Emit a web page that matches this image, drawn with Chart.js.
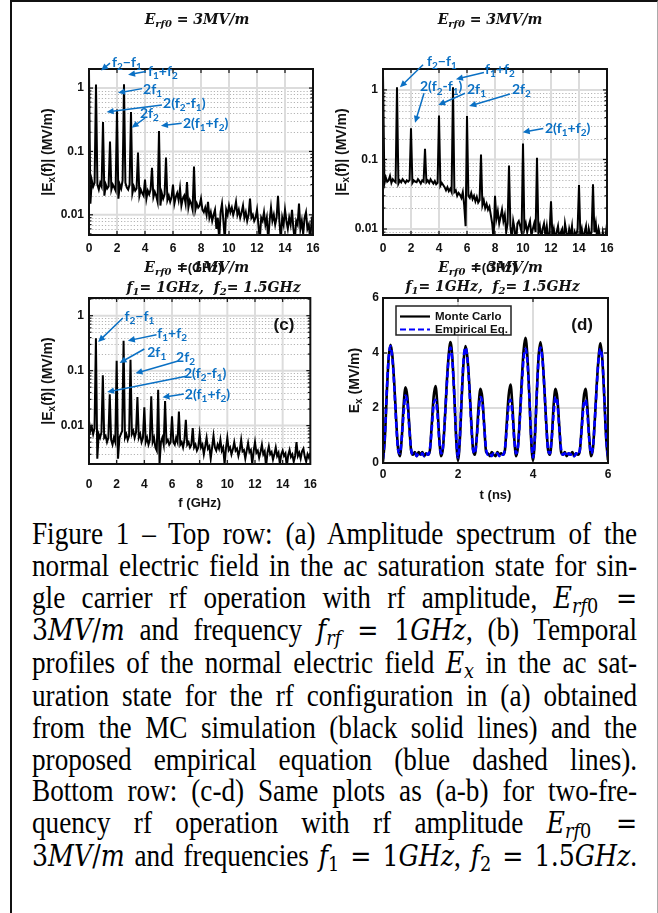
<!DOCTYPE html>
<html>
<head>
<meta charset="utf-8">
<script src="https://cdn.jsdelivr.net/npm/chart.js@4.4.1/dist/chart.umd.min.js"></script>
<style>
html, body { margin: 0; padding: 0; background: #fff; }
body { width: 658px; height: 913px; position: relative; overflow: hidden; }
#frame { position: absolute; left: 10px; top: 0; width: 648px; height: 913px; box-sizing: border-box;
  border-left: 2px solid #111; border-top: 2px solid #111; border-right: 1px solid #aaa; }
canvas { position: absolute; }
#cap { position: absolute; left: 32px; top: 518px; width: 690px; font-family: "Liberation Serif", "Times New Roman", serif;
  font-size: 31px; line-height: 31.8px; color: #000; transform: scaleX(0.877); transform-origin: 0 0; }
#cap div { text-align: justify; text-align-last: justify; }
#cap sub { font-size: 0.7em; vertical-align: -0.25em; line-height: 0; }
#cap .m { font-family: "DejaVu Serif", serif; font-size: 0.93em; }
</style>
</head>
<body>
<div id="frame"></div>
<canvas id="chartA" width="310" height="280" style="left:20px;top:0"></canvas>
<canvas id="chartB" width="310" height="280" style="left:320px;top:0"></canvas>
<canvas id="chartC" width="310" height="258" style="left:20px;top:255px"></canvas>
<canvas id="chartD" width="310" height="258" style="left:320px;top:255px"></canvas>
<div id="cap">
<div>Figure 1 – Top row: (a) Amplitude spectrum of the</div>
<div>normal electric field in the ac saturation state for sin-</div>
<div>gle carrier rf operation with rf amplitude, <span class="m"><i>E</i><sub><i>rf</i>0</sub> =</span></div>
<div><span class="m">3<i>MV</i>/<i>m</i></span> and frequency <span class="m"><i>f</i><sub><i>rf</i></sub> = 1<i>GHz</i></span>, (b) Temporal</div>
<div>profiles of the normal electric field <span class="m"><i>E</i><sub><i>x</i></sub></span> in the ac sat-</div>
<div>uration state for the rf configuration in (a) obtained</div>
<div>from the MC simulation (black solid lines) and the</div>
<div>proposed empirical equation (blue dashed lines).</div>
<div>Bottom row: (c-d) Same plots as (a-b) for two-fre-</div>
<div>quency rf operation with rf amplitude <span class="m"><i>E</i><sub><i>rf</i>0</sub> =</span></div>
<div><span class="m">3<i>MV</i>/<i>m</i></span> and frequencies <span class="m"><i>f</i><sub>1</sub> = 1<i>GHz</i></span>, <span class="m"><i>f</i><sub>2</sub> = 1.5<i>GHz</i></span>.</div>
</div>

<script>
// spectra sampled every 0.1 GHz, one row per GHz
const freqStep = 0.1;
const specA = [
  1.8, 0.015, 0.035, 0.028, 0.032, 1.14, 0.03, 0.025, 0.032, 0.028,
  0.29, 0.02, 0.03, 0.026, 0.028, 0.143, 0.025, 0.03, 0.027, 0.024,
  0.46, 0.018, 0.03, 0.026, 0.035, 1.15, 0.032, 0.027, 0.025, 0.03,
  0.42, 0.022, 0.028, 0.024, 0.026, 0.096, 0.02, 0.025, 0.022, 0.02,
  0.036, 0.018, 0.024, 0.021, 0.025, 0.055, 0.019, 0.023, 0.02, 0.016,
  0.21, 0.014, 0.022, 0.018, 0.021, 0.08, 0.017, 0.02, 0.016, 0.019,
  0.03, 0.015, 0.019, 0.022, 0.017, 0.026, 0.014, 0.018, 0.02, 0.015,
  0.033, 0.013, 0.017, 0.015, 0.012, 0.058, 0.012, 0.015, 0.013, 0.014,
  0.018, 0.012, 0.011, 0.013, 0.01, 0.016, 0.009, 0.011, 0.008, 0.01,
  0.012, 0.006, 0.009, 0.004, 0.011, 0.015, 0.008, 0.004, 0.012, 0.01,
  0.014, 0.011, 0.013, 0.01, 0.012, 0.016, 0.01, 0.012, 0.009, 0.011,
  0.014, 0.009, 0.011, 0.008, 0.01, 0.018, 0.009, 0.01, 0.008, 0.009,
  0.012, 0.007, 0.004, 0.009, 0.008, 0.011, 0.007, 0.009, 0.004, 0.008,
  0.013, 0.008, 0.01, 0.007, 0.009, 0.02, 0.008, 0.004, 0.009, 0.007,
  0.012, 0.008, 0.006, 0.009, 0.007, 0.012, 0.006, 0.004, 0.008, 0.007,
  0.015, 0.006, 0.008, 0.005, 0.009, 0.011, 0.006, 0.007, 0.004, 0.008,
  0.01
];
const specB = [
  1.65, 0.045, 0.055, 0.048, 0.05, 0.058, 0.046, 0.052, 0.049, 0.047,
  1.09, 0.045, 0.05, 0.047, 0.052, 0.049, 0.046, 0.05, 0.048, 0.051,
  0.28, 0.046, 0.05, 0.048, 0.047, 0.052, 0.049, 0.045, 0.05, 0.048,
  0.143, 0.047, 0.05, 0.046, 0.052, 0.048, 0.045, 0.049, 0.044, 0.046,
  0.43, 0.042, 0.046, 0.043, 0.04, 0.036, 0.04, 0.035, 0.038, 0.034,
  1.09, 0.034, 0.036, 0.03, 0.033, 0.031, 0.028, 0.034, 0.022, 0.011,
  0.42, 0.03, 0.028, 0.033, 0.027, 0.03, 0.025, 0.029, 0.024, 0.026,
  0.118, 0.022, 0.026, 0.02, 0.023, 0.019, 0.021, 0.016, 0.012, 0.007,
  0.03, 0.014, 0.018, 0.012, 0.015, 0.019, 0.013, 0.016, 0.009, 0.012,
  0.082, 0.011, 0.007, 0.013, 0.01, 0.006, 0.012, 0.013, 0.011, 0.009,
  0.169, 0.01, 0.012, 0.009, 0.011, 0.013, 0.008, 0.01, 0.012, 0.009,
  0.106, 0.009, 0.011, 0.007, 0.01, 0.012, 0.008, 0.011, 0.007, 0.009,
  0.025, 0.008, 0.01, 0.007, 0.009, 0.011, 0.007, 0.009, 0.01, 0.006,
  0.012, 0.009, 0.007, 0.01, 0.008, 0.011, 0.006, 0.009, 0.008, 0.01,
  0.043, 0.008, 0.01, 0.007, 0.009, 0.011, 0.006, 0.01, 0.008, 0.009,
  0.044, 0.009, 0.012, 0.007, 0.01, 0.008, 0.006, 0.009, 0.007, 0.008,
  0.012
];
const specC = [
  0.012, 0.008, 0.0095, 0.007, 0.009, 0.39, 0.0025, 0.007, 0.006, 0.0075,
  0.082, 0.006, 0.0065, 0.005, 0.006, 0.037, 0.0055, 0.0045, 0.006, 0.005,
  0.152, 0.0025, 0.006, 0.007, 0.008, 0.35, 0.006, 0.007, 0.0055, 0.0065,
  0.158, 0.007, 0.008, 0.006, 0.0075, 0.033, 0.006, 0.007, 0.005, 0.006,
  0.0215, 0.005, 0.006, 0.0045, 0.0055, 0.034, 0.005, 0.006, 0.004, 0.0035,
  0.045, 0.002, 0.005, 0.006, 0.0045, 0.028, 0.005, 0.0055, 0.0045, 0.005,
  0.0148, 0.005, 0.0045, 0.006, 0.005, 0.018, 0.0045, 0.005, 0.004, 0.0055,
  0.0128, 0.0045, 0.005, 0.004, 0.0045, 0.009, 0.004, 0.0045, 0.0035, 0.004,
  0.007, 0.004, 0.0045, 0.003, 0.0042, 0.006, 0.0038, 0.0042, 0.0025, 0.004,
  0.0065, 0.004, 0.0035, 0.0045, 0.0038, 0.0055, 0.0035, 0.004, 0.002, 0.0038,
  0.006, 0.0036, 0.004, 0.003, 0.0037, 0.005, 0.0035, 0.0038, 0.0028, 0.0036,
  0.0055, 0.0034, 0.0036, 0.0025, 0.0035, 0.0048, 0.0033, 0.0036, 0.002, 0.0034,
  0.005, 0.0032, 0.0035, 0.0026, 0.0033, 0.0045, 0.003, 0.0034, 0.0018, 0.0032,
  0.0042, 0.003, 0.0033, 0.0024, 0.003, 0.004, 0.0028, 0.0032, 0.002, 0.003,
  0.0035, 0.0028, 0.0031, 0.0018, 0.0029, 0.0036, 0.0027, 0.003, 0.0022, 0.0028,
  0.005, 0.0028, 0.0032, 0.0025, 0.0034, 0.0038, 0.0027, 0.0022, 0.003, 0.0026,
  0.0032
];

// field vs time, every 0.05 ns, one row per 0.5 ns
const timeStep = 0.05;
const mcField = [
  0.05, 0.9, 2.5, 3.8, 4.3, 3.9, 2.9, 1.6, 0.55, 0.25,
  0.9, 2.1, 2.75, 2.4, 1.4, 0.45, 0.3, 0.4, 0.25, 0.4,
  0.3, 0.4, 0.25, 0.35, 0.3, 0.45, 1.4, 2.4, 2.8, 2.1,
  0.9, 0.25, 0.55, 1.6, 2.9, 3.9, 4.4, 3.8, 2.5, 0.9,
  0.1, 0.85, 2.4, 3.7, 4.25, 3.85, 2.9, 1.6, 0.5, 0.3,
  0.95, 2.1, 2.7, 2.35, 1.35, 0.4, 0.35, 0.25, 0.4, 0.3,
  0.25, 0.4, 0.3, 0.35, 0.3, 0.45, 1.45, 2.45, 2.85, 2.1,
  0.9, 0.25, 0.6, 1.7, 3.0, 4.1, 4.55, 3.9, 2.5, 0.85,
  0.1, 0.9, 2.5, 3.9, 4.4, 3.9, 2.8, 1.5, 0.5, 0.3,
  0.9, 2.1, 2.7, 2.35, 1.35, 0.4, 0.3, 0.4, 0.25, 0.35,
  0.3, 0.4, 0.25, 0.35, 0.3, 0.45, 1.35, 2.35, 2.7, 2.05,
  0.9, 0.25, 0.55, 1.6, 2.85, 3.85, 4.35, 3.75, 2.4, 0.9,
  0.1
];
const empField = [
  0.15, 1.0, 2.6, 3.8, 4.25, 3.8, 2.8, 1.5, 0.5, 0.35,
  0.9, 1.8, 2.45, 2.2, 1.3, 0.5, 0.3, 0.35, 0.25, 0.35,
  0.3, 0.35, 0.25, 0.35, 0.3, 0.5, 1.25, 2.1, 2.3, 1.8,
  0.85, 0.35, 0.6, 1.6, 2.8, 3.8, 4.2, 3.7, 2.5, 1.0,
  0.2, 0.95, 2.5, 3.8, 4.2, 3.8, 2.8, 1.5, 0.5, 0.35,
  0.9, 1.8, 2.4, 2.2, 1.3, 0.5, 0.3, 0.35, 0.25, 0.35,
  0.3, 0.35, 0.25, 0.35, 0.3, 0.5, 1.25, 2.1, 2.3, 1.8,
  0.85, 0.35, 0.6, 1.6, 2.8, 3.8, 4.15, 3.7, 2.5, 1.0,
  0.2, 0.95, 2.5, 3.8, 4.2, 3.8, 2.8, 1.5, 0.5, 0.35,
  0.9, 1.8, 2.4, 2.2, 1.3, 0.5, 0.3, 0.35, 0.25, 0.35,
  0.3, 0.35, 0.25, 0.35, 0.3, 0.5, 1.25, 2.1, 2.3, 1.8,
  0.85, 0.35, 0.6, 1.6, 2.8, 3.8, 4.15, 3.7, 2.5, 1.0,
  0.2
];
const legendLabels = ['Monte Carlo', 'Empirical Eq.'];

const fTicks = [0, 2, 4, 6, 8, 10, 12, 14, 16];
const decadeTicks = [0.01, 0.1, 1];
const tTicks = [0, 2, 4, 6];
const eTicks = [0, 2, 4, 6];

// peak labels: text at (tx,ty), arrow from (x1,y1) to head (x2,y2), in data units
const notesA = [
  { text: 'f_2−f_1', tx: 1.64, ty: 2.57, x1: 1.50, y1: 2.48, x2: 0.86, y2: 1.89 },
  { text: 'f_1+f_2', tx: 4.21, ty: 1.85, x1: 4.07, y1: 1.82, x2: 2.79, y2: 1.62 },
  { text: '2f_1', tx: 3.86, ty: 0.96, x1: 3.79, y1: 0.98, x2: 2.07, y2: 0.84 },
  { text: '2(f_2-f_1)', tx: 5.29, ty: 0.58, x1: 5.21, y1: 0.54, x2: 1.26, y2: 0.42 },
  { text: '2f_2', tx: 3.64, ty: 0.40, x1: 4.0, y1: 0.337, x2: 3.05, y2: 0.237 },
  { text: '2(f_1+f_2)', tx: 6.71, ty: 0.281, x1: 6.62, y1: 0.278, x2: 5.14, y2: 0.255 }
];
const notesB = [
  { text: 'f_2−f_1', tx: 3.14, ty: 2.55, x1: 2.86, y1: 2.30, x2: 1.21, y2: 1.09 },
  { text: 'f_1+f_2', tx: 7.29, ty: 1.95, x1: 7.21, y1: 1.78, x2: 5.21, y2: 1.43 },
  { text: '2(f_2-f_1)', tx: 2.64, ty: 1.105, x1: 2.93, y1: 0.896, x2: 2.29, y2: 0.336 },
  { text: '2f_1', tx: 6.0, ty: 1.03, x1: 5.86, y1: 0.896, x2: 3.95, y2: 0.606 },
  { text: '2f_2', tx: 9.21, ty: 1.03, x1: 9.07, y1: 0.875, x2: 6.16, y2: 0.586 },
  { text: '2(f_1+f_2)', tx: 11.57, ty: 0.281, x1: 11.45, y1: 0.279, x2: 9.98, y2: 0.246 }
];
const notesC = [
  { text: 'f_2−f_1', tx: 2.57, ty: 0.959, x1: 2.45, y1: 0.908, x2: 0.66, y2: 0.333 },
  { text: 'f_1+f_2', tx: 4.93, ty: 0.471, x1: 4.88, y1: 0.451, x2: 2.81, y2: 0.351 },
  { text: '2f_1', tx: 4.21, ty: 0.212, x1: 4.0, y1: 0.248, x2: 2.21, y2: 0.138 },
  { text: '2f_2', tx: 6.29, ty: 0.172, x1: 6.38, y1: 0.148, x2: 3.36, y2: 0.0893 },
  { text: '2(f_2-f_1)', tx: 6.86, ty: 0.0882, x1: 7.02, y1: 0.0788, x2: 1.31, y2: 0.041 },
  { text: '2(f_1+f_2)', tx: 6.93, ty: 0.0366, x1: 6.86, y1: 0.0376, x2: 5.31, y2: 0.0327 }
];

const sansBold = '"Liberation Sans", Arial, sans-serif';
const mathFont = '"DejaVu Serif", serif';
const noteBlue = '#0a70c4';
const tickFont = { family: sansBold, size: 12, weight: 'bold' };

const toXY = (vals, step) => vals.map((v, i) => ({ x: +(i * step).toFixed(2), y: v }));

// text with "_x" or "_{xy}" subscripts
function parseRich(str) {
  const segs = [];
  let i = 0;
  while (i < str.length) {
    if (str[i] === '_') {
      if (str[i + 1] === '{') {
        const j = str.indexOf('}', i);
        segs.push({ t: str.slice(i + 2, j), sub: true });
        i = j + 1;
      } else {
        segs.push({ t: str[i + 1], sub: true });
        i += 2;
      }
    } else {
      let j = i;
      while (j < str.length && str[j] !== '_') j++;
      segs.push({ t: str.slice(i, j), sub: false });
      i = j;
    }
  }
  return segs;
}

function drawRich(ctx, str, x, y, font, align) {
  const segs = parseRich(str);
  const fontOf = s => `${font.style} ${s.sub ? Math.round(font.size * 0.68) : font.size}px ${font.family}`;
  let w = 0;
  segs.forEach(s => { ctx.font = fontOf(s); s.w = ctx.measureText(s.t).width; w += s.w; });
  let cx = align === 'center' ? x - w / 2 : x;
  ctx.textAlign = 'left';
  ctx.textBaseline = 'middle';
  segs.forEach(s => {
    ctx.font = fontOf(s);
    ctx.fillText(s.t, cx, s.sub ? y + font.size * 0.32 : y);
    cx += s.w;
  });
}

function seg(ctx, x1, y1, x2, y2) {
  ctx.beginPath(); ctx.moveTo(x1, y1); ctx.lineTo(x2, y2); ctx.stroke();
}

function matlabPlugin(look) {
  return {
    id: 'matlab',
    beforeDatasetsDraw(chart) {
      const { ctx, chartArea: a, scales: { x, y } } = chart;
      ctx.save();
      ctx.beginPath(); ctx.rect(a.left, a.top, a.width, a.height); ctx.clip();
      if (look.log) {
        ctx.strokeStyle = '#b4b4b4'; ctx.lineWidth = 1; ctx.setLineDash([1.2, 2]);
        [0.001, 0.01, 0.1, 1].forEach(d => {
          for (let k = 2; k <= 9; k++) {
            const py = Math.round(y.getPixelForValue(k * d)) + 0.5;
            if (py > a.top && py < a.bottom) seg(ctx, a.left, py, a.right, py);
          }
        });
        ctx.setLineDash([]);
      }
      ctx.strokeStyle = '#dcdcdc'; ctx.lineWidth = 2;
      look.xGrid.forEach(v => { const px = x.getPixelForValue(v); seg(ctx, px, a.top, px, a.bottom); });
      look.yGrid.forEach(v => { const py = y.getPixelForValue(v); seg(ctx, a.left, py, a.right, py); });
      ctx.restore();
    },
    afterDraw(chart) {
      const { ctx, chartArea: a, scales: { x, y } } = chart;
      const mid = (a.left + a.right) / 2;
      ctx.save();
      // box and inward ticks
      ctx.strokeStyle = '#111'; ctx.lineWidth = 2;
      ctx.strokeRect(a.left, a.top, a.width, a.height);
      ctx.lineWidth = 1.2;
      look.xGrid.forEach(v => {
        const px = x.getPixelForValue(v);
        seg(ctx, px, a.bottom, px, a.bottom - 4); seg(ctx, px, a.top, px, a.top + 4);
      });
      look.yGrid.forEach(v => {
        const py = y.getPixelForValue(v);
        seg(ctx, a.left, py, a.left + 4, py); seg(ctx, a.right, py, a.right - 4, py);
      });
      if (look.log) {
        [0.001, 0.01, 0.1, 1].forEach(d => {
          for (let k = 2; k <= 9; k++) {
            const py = y.getPixelForValue(k * d);
            if (py > a.top && py < a.bottom) { seg(ctx, a.left, py, a.left + 2.5, py); seg(ctx, a.right, py, a.right - 2.5, py); }
          }
        });
      }
      // titles
      ctx.fillStyle = '#111';
      look.titles.forEach(t => drawRich(ctx, t.text, mid + t.dx, a.top + t.dy,
        { style: 'bold italic', size: 14, family: mathFont }, 'center'));
      drawRich(ctx, look.xTitle, mid, a.bottom + look.xTitleDy, { style: 'bold', size: 13, family: sansBold }, 'center');
      ctx.save();
      ctx.translate(a.left - look.yTitleDx, (a.top + a.bottom) / 2);
      ctx.rotate(-Math.PI / 2);
      drawRich(ctx, look.yTitle, 0, 0, { style: 'bold', size: 14, family: sansBold }, 'center');
      ctx.restore();
      // panel tag
      if (look.tag) {
        ctx.font = 'bold 17px ' + sansBold; ctx.textAlign = 'right'; ctx.textBaseline = 'middle';
        ctx.fillText(look.tag, a.right - look.tagDx, a.top + 27);
      }
      // peak labels
      if (look.notes) {
        ctx.strokeStyle = noteBlue; ctx.fillStyle = noteBlue; ctx.lineWidth = 1.5;
        look.notes.forEach(n => {
          const x1 = x.getPixelForValue(n.x1), y1 = y.getPixelForValue(n.y1);
          const x2 = x.getPixelForValue(n.x2), y2 = y.getPixelForValue(n.y2);
          const ang = Math.atan2(y2 - y1, x2 - x1);
          seg(ctx, x1, y1, x2 - 4 * Math.cos(ang), y2 - 4 * Math.sin(ang));
          ctx.beginPath();
          ctx.moveTo(x2, y2);
          ctx.lineTo(x2 - 7 * Math.cos(ang) + 3.2 * Math.sin(ang), y2 - 7 * Math.sin(ang) - 3.2 * Math.cos(ang));
          ctx.lineTo(x2 - 7 * Math.cos(ang) - 3.2 * Math.sin(ang), y2 - 7 * Math.sin(ang) + 3.2 * Math.cos(ang));
          ctx.closePath(); ctx.fill();
          drawRich(ctx, n.text, x.getPixelForValue(n.tx), y.getPixelForValue(n.ty),
            { style: 'bold', size: 14, family: 'Lato, "Open Sans", sans-serif' }, 'left');
        });
      }
      // legend
      if (look.legend) {
        const bx = a.left + 13, by = a.top + 8, bw = 115, bh = 29;
        ctx.fillStyle = '#fff'; ctx.fillRect(bx, by, bw, bh);
        ctx.strokeStyle = '#222'; ctx.lineWidth = 1.5; ctx.strokeRect(bx, by, bw, bh);
        chart.data.datasets.forEach((ds, i) => {
          const ly = by + 10.5 + i * 13;
          ctx.strokeStyle = ds.borderColor; ctx.lineWidth = 2.2; ctx.setLineDash(ds.borderDash || []);
          seg(ctx, bx + 4, ly, bx + 34, ly);
          ctx.setLineDash([]);
          ctx.fillStyle = '#111'; ctx.font = 'bold 11.5px ' + sansBold;
          ctx.textAlign = 'left'; ctx.textBaseline = 'middle';
          ctx.fillText(ds.label, bx + 39, ly + 0.5);
        });
      }
      ctx.restore();
    }
  };
}

function spectrumChart(id, vals, yMin, yMax, look) {
  return new Chart(document.getElementById(id), {
    type: 'line',
    data: { datasets: [{ data: toXY(vals, freqStep), borderColor: '#000', borderWidth: 2, pointRadius: 0, tension: 0 }] },
    options: {
      responsive: false, animation: false, events: [],
      layout: { padding: { top: look.top, right: look.right, left: 0, bottom: 0 } },
      plugins: { legend: { display: false }, tooltip: { enabled: false } },
      scales: {
        x: {
          type: 'linear', min: 0, max: 16,
          afterBuildTicks: s => { s.ticks = fTicks.map(v => ({ value: v })); },
          ticks: { font: tickFont, color: '#111', padding: look.xPad, maxRotation: 0, autoSkip: false },
          grid: { display: false, drawTicks: false }, border: { display: false },
          afterFit: s => { s.height = look.xH; }
        },
        y: {
          type: 'logarithmic', min: yMin, max: yMax,
          afterBuildTicks: s => { s.ticks = decadeTicks.map(v => ({ value: v })); },
          ticks: { font: tickFont, color: '#111', padding: 5, autoSkip: false, callback: v => String(v) },
          grid: { display: false, drawTicks: false }, border: { display: false },
          afterFit: s => { s.width = look.left; }
        }
      }
    },
    plugins: [matlabPlugin(look)]
  });
}

const spectrumTitle = 'E_{rf0} = 3MV/m';

spectrumChart('chartA', specA, 0.0048, 2.0, {
  top: 69, right: 17, left: 69, xH: 45, xPad: 6, log: true,
  xGrid: fTicks.slice(1, -1), yGrid: decadeTicks,
  titles: [{ text: spectrumTitle, dx: -4, dy: -49 }],
  xTitle: 'f (GHz)', xTitleDy: 33, yTitle: '|E_x(f)| (MV/m)', yTitleDx: 41,
  notes: notesA
});

spectrumChart('chartB', specB, 0.0082, 2.0, {
  top: 69, right: 23, left: 63, xH: 45, xPad: 6, log: true,
  xGrid: fTicks.slice(1, -1), yGrid: decadeTicks,
  titles: [{ text: spectrumTitle, dx: -5, dy: -49 }],
  xTitle: 'f (GHz)', xTitleDy: 33, yTitle: '|E_x(f)| (MV/m)', yTitleDx: 41,
  notes: notesB
});

spectrumChart('chartC', specC, 0.002, 2.1, {
  top: 43, right: 17, left: 69, xH: 49, xPad: 13, log: true,
  xGrid: fTicks.slice(1, -1), yGrid: decadeTicks,
  titles: [{ text: 'E_{rf0} = 1MV/m', dx: -3, dy: -30 }, { text: 'f_1= 1GHz,  f_2= 1.5GHz', dx: 14, dy: -10 }],
  xTitle: 'f (GHz)', xTitleDy: 39, yTitle: '|E_x(f)| (MV/m)', yTitleDx: 41,
  notes: notesC, tag: '(c)', tagDx: 16
});

new Chart(document.getElementById('chartD'), {
  type: 'line',
  data: {
    datasets: [
      { label: legendLabels[0], data: toXY(mcField, timeStep), borderColor: '#000', borderWidth: 2.6,
        pointRadius: 0, cubicInterpolationMode: 'monotone', order: 1 },
      { label: legendLabels[1], data: toXY(empField, timeStep), borderColor: '#0000ff', borderWidth: 2.6,
        borderDash: [6, 3], pointRadius: 0, cubicInterpolationMode: 'monotone', order: 0 }
    ]
  },
  options: {
    responsive: false, animation: false, events: [],
    layout: { padding: { top: 43, right: 22, left: 0, bottom: 0 } },
    plugins: { legend: { display: false }, tooltip: { enabled: false } },
    scales: {
      x: {
        type: 'linear', min: 0, max: 6,
        afterBuildTicks: s => { s.ticks = tTicks.map(v => ({ value: v })); },
        ticks: { font: tickFont, color: '#111', padding: 4, maxRotation: 0, autoSkip: false },
        grid: { display: false, drawTicks: false }, border: { display: false },
        afterFit: s => { s.height = 50; }
      },
      y: {
        type: 'linear', min: 0, max: 6,
        afterBuildTicks: s => { s.ticks = eTicks.map(v => ({ value: v })); },
        ticks: { font: tickFont, color: '#111', padding: 4, autoSkip: false },
        grid: { display: false, drawTicks: false }, border: { display: false },
        afterFit: s => { s.width = 63; }
      }
    }
  },
  plugins: [matlabPlugin({
    log: false, xGrid: [2, 4], yGrid: [2, 4],
    titles: [{ text: 'E_{rf0} = 3MV/m', dx: -5, dy: -30 }, { text: 'f_1= 1GHz,  f_2= 1.5GHz', dx: -3, dy: -11 }],
    xTitle: 't (ns)', xTitleDy: 32, yTitle: 'E_x (MV/m)', yTitleDx: 28,
    tag: '(d)', tagDx: 15, legend: true
  })]
});
</script>
</body>
</html>
